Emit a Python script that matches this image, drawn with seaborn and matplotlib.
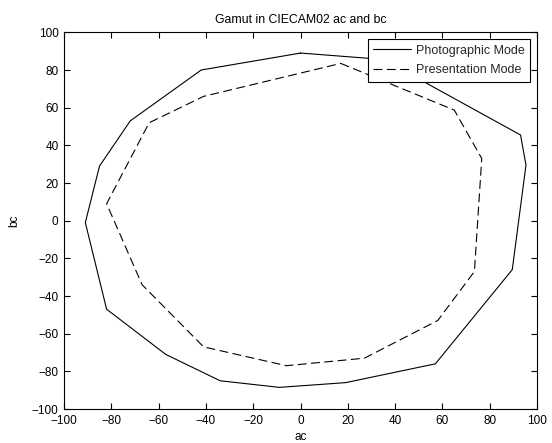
import matplotlib
matplotlib.use("Agg")
import matplotlib.pyplot as plt
import seaborn as sns
import pandas as pd

# Photographic Mode gamut boundary (closed polygon)
photo_ac = [0, 35, 93, 95.3, 89.5, 57, 19, -9, -34, -57, -82, -91, -85, -72, -42, 0]
photo_bc = [89, 85.6, 45.5, 29.5, -26, -76, -86, -88.5, -85, -71, -47, -1, 29, 53, 80, 89]

# Presentation Mode gamut boundary (closed polygon)
pres_ac = [17, 65, 76.6, 73.5, 58, 27, -6, -41, -67, -82, -64, -41, 17]
pres_bc = [83.5, 58.7, 33, -27, -53, -73, -77, -67, -34, 9, 52, 66, 83.5]

series_names = ["Photographic Mode", "Presentation Mode"]
x_ticks = [-100, -80, -60, -40, -20, 0, 20, 40, 60, 80, 100]
y_ticks = [-100, -80, -60, -40, -20, 0, 20, 40, 60, 80, 100]

df = pd.concat([
    pd.DataFrame({"ac": photo_ac, "bc": photo_bc, "mode": series_names[0]}),
    pd.DataFrame({"ac": pres_ac, "bc": pres_bc, "mode": series_names[1]}),
], ignore_index=True)

sns.set_theme(style="white")
plt.rcParams["font.family"] = ["Liberation Sans", "DejaVu Sans"]

fig = plt.figure(figsize=(5.52, 4.43), dpi=100)
ax = fig.add_axes([0.116, 0.0767, 0.857, 0.8503])

sns.lineplot(data=df, x="ac", y="bc", hue="mode", style="mode", sort=False,
             estimator=None, palette=["black", "black"],
             dashes={series_names[0]: "", series_names[1]: (8, 4)},
             linewidth=0.8, ax=ax, legend=True)

ax.set_xlim(-100, 100)
ax.set_ylim(-100, 100)
ax.set_xticks(x_ticks)
ax.set_yticks(y_ticks)
ax.tick_params(direction="in", length=4, width=0.8, colors="black",
               labelsize=8.5, top=True, right=True, bottom=True, left=True,
               pad=4)
for s in ax.spines.values():
    s.set_visible(True)
    s.set_color("black")
    s.set_linewidth(0.8)

ax.set_title("Gamut in CIECAM02 ac and bc", fontsize=8.8, color="black", pad=7)
ax.set_xlabel("ac", fontsize=8.5, color="black", labelpad=3)
ax.set_ylabel("bc", fontsize=8.5, color="black", labelpad=8)

leg = ax.legend(loc="upper right", fontsize=9, frameon=True, fancybox=False,
                edgecolor="black", framealpha=1, handlelength=3.0,
                handletextpad=0.4, borderaxespad=0.55, borderpad=0.45,
                labelspacing=0.6)
leg.get_frame().set_linewidth(0.8)

fig.savefig("out.png", dpi=100, facecolor="white")
